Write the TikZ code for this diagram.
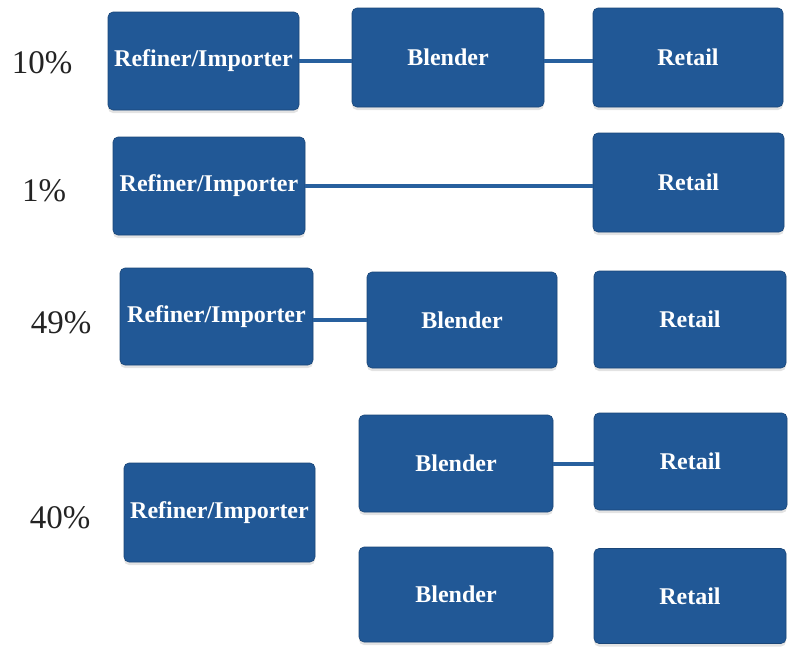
\documentclass[tikz,border=0pt]{standalone}
\usepackage{fontspec}
\setmainfont{Liberation Serif}
\usetikzlibrary{shadows}
\definecolor{boxblue}{RGB}{33,88,150}
\definecolor{lineblue}{RGB}{40,96,158}
\definecolor{pcttext}{RGB}{35,35,35}
\begin{document}
\begin{tikzpicture}[x=1pt,y=-1pt,
  box/.style={draw=boxblue!80!black, line width=0.6pt, fill=boxblue, rounded corners=5pt,
    text=white, font=\fontsize{24}{28}\selectfont\bfseries, inner sep=0pt,
    drop shadow={shadow xshift=0pt, shadow yshift=-3pt, opacity=0.22, fill=gray}},
  pct/.style={text=pcttext, font=\fontsize{33}{38}\selectfont, inner sep=0pt},
  link/.style={draw=lineblue, line width=4pt}]
\useasboundingbox (0,0) rectangle (788,646);
% row 1
\node[box, minimum width=191, minimum height=98] (r1a) at (203.5,61) {Refiner/Importer};
\node[box, minimum width=192, minimum height=99] (r1b) at (448,57.5) {Blender};
\node[box, minimum width=190, minimum height=99] (r1c) at (688,57.5) {Retail};
% row 2
\node[box, minimum width=192, minimum height=98] (r2a) at (209,186) {Refiner/Importer};
\node[box, minimum width=191, minimum height=99] (r2c) at (688.5,182.5) {Retail};
% row 3
\node[box, minimum width=193, minimum height=97] (r3a) at (216.5,316.5) {Refiner/Importer};
\node[box, minimum width=190, minimum height=96] (r3b) at (462,320) {Blender};
\node[box, minimum width=192, minimum height=97] (r3c) at (690,319.5) {Retail};
% row 4
\node[box, minimum width=191, minimum height=99] (r4a) at (219.5,512.5) {Refiner/Importer};
\node[box, minimum width=194, minimum height=97] (r4b) at (456,463.5) {Blender};
\node[box, minimum width=193, minimum height=97] (r4c) at (690.5,461.5) {Retail};
% row 5
\node[box, minimum width=194, minimum height=95] (r5b) at (456,594.5) {Blender};
\node[box, minimum width=192, minimum height=95] (r5c) at (690,596) {Retail};
% percentages
\node[pct] (p1) at (42,63) {10\%};
\node[pct] (p2) at (44,191) {1\%};
\node[pct] (p3) at (61,323) {49\%};
\node[pct] (p4) at (60,518) {40\%};
% connectors
\draw[link] (r1a.east) -- (r1a.east -| r1b.west);
\draw[link] (r1b.east |- r1a.east) -- (r1c.west |- r1a.east);
\draw[link] (r2a.east) -- (r2c.west |- r2a.east);
\draw[link] (r3a.east |- r3b.west) -- (r3b.west);
\draw[link] (r4b.east) -- (r4c.west |- r4b.east);
\end{tikzpicture}
\end{document}
